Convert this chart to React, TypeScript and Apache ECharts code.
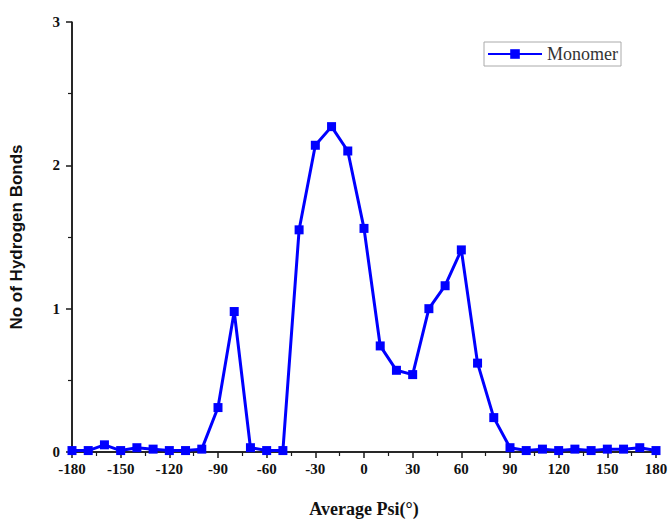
import React, { useEffect, useRef } from "react";
import * as echarts from "echarts";

const psi = [-180,-170,-160,-150,-140,-130,-120,-110,-100,-90,-80,-70,-60,-50,-40,-30,-20,-10,0,10,20,30,40,50,60,70,80,90,100,110,120,130,140,150,160,170,180];
const monomer = [0.01,0.01,0.05,0.01,0.03,0.02,0.01,0.01,0.02,0.31,0.98,0.03,0.01,0.01,1.55,2.14,2.27,2.10,1.56,0.74,0.57,0.54,1.00,1.16,1.41,0.62,0.24,0.03,0.01,0.02,0.01,0.02,0.01,0.02,0.02,0.03,0.01];
const seriesName = "Monomer";
const xTitle = "Average Psi(°)";
const yTitle = "No of Hydrogen Bonds";
const xMin = -180;
const xMax = 180;
const yMin = 0;
const yMax = 3;

export default function App() {
  const ref = useRef<HTMLDivElement>(null);
  useEffect(() => {
    const chart = echarts.init(ref.current!, null, { renderer: "svg" });
    const serif = "'Liberation Serif', 'Times New Roman', serif";
    const sans = "'Liberation Sans', Arial, sans-serif";
    const axisColor = "#1a1a1a";
    chart.setOption({
      animation: false,
      backgroundColor: "#ffffff",
      grid: { left: 67, right: 16, top: 22, bottom: 69, containLabel: false },
      legend: {
        data: [seriesName],
        right: 51,
        top: 42,
        orient: "vertical",
        borderColor: "#aaaaaa",
        borderWidth: 1,
        padding: [3, 3, 3, 3],
        itemWidth: 54,
        itemHeight: 12,
        itemGap: 4,
        textStyle: { fontFamily: serif, fontSize: 18, color: "#333333" },
      },
      xAxis: {
        type: "value",
        position: "bottom",
        z: 10,
        min: xMin,
        max: xMax,
        interval: 30,
        name: xTitle,
        nameLocation: "middle",
        nameGap: 48,
        nameTextStyle: { fontFamily: serif, fontSize: 18, fontWeight: "bold", color: "#111" },
        axisLine: { show: true, onZero: false, lineStyle: { color: axisColor, width: 1.5 } },
        axisTick: { show: true, inside: false, length: 6, lineStyle: { color: axisColor, width: 1.5 } },
        minorTick: { show: true, splitNumber: 2, length: 4, lineStyle: { color: axisColor, width: 1.2 } },
        splitLine: { show: false },
        axisLabel: { margin: 9, fontFamily: serif, fontSize: 15, fontWeight: "bold", color: "#111" },
      },
      yAxis: {
        type: "value",
        position: "left",
        z: 10,
        min: yMin,
        max: yMax,
        interval: 1,
        name: yTitle,
        nameLocation: "middle",
        nameGap: 47,
        nameRotate: 90,
        nameTextStyle: { fontFamily: sans, fontSize: 17, fontWeight: "bold", color: "#111" },
        axisLine: { show: true, onZero: false, lineStyle: { color: axisColor, width: 1.5 } },
        axisTick: { show: true, inside: false, length: 6, lineStyle: { color: axisColor, width: 1.5 } },
        minorTick: { show: true, splitNumber: 2, length: 4, lineStyle: { color: axisColor, width: 1.2 } },
        splitLine: { show: false },
        axisLabel: { margin: 12, fontFamily: serif, fontSize: 15, fontWeight: "bold", color: "#111" },
      },
      series: [
        {
          name: seriesName,
          type: "line",
          data: psi.map((x, i) => [x, monomer[i]]),
          symbol: "rect",
          symbolSize: 9,
          showAllSymbol: true,
          lineStyle: { color: "#0000ff", width: 3 },
          itemStyle: { color: "#0000ff" },
          clip: false,
          z: 20,
          markLine: {
            silent: true,
            symbol: ["none", "none"],
            label: { show: false },
            emphasis: { disabled: true },
            lineStyle: { type: "solid", color: axisColor, width: 1.5 },
            z: 1,
            data: [{ xAxis: xMin }, { yAxis: yMin }],
          },
        },
      ],
    });
    return () => chart.dispose();
  }, []);
  return <div ref={ref} style={{ width: 672, height: 523, position: "absolute", left: 0, top: 0 }} />;
}
